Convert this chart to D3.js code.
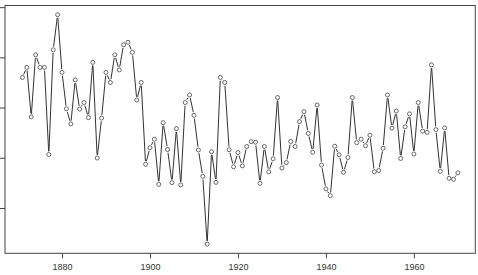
<!DOCTYPE html>
<html><head><meta charset="utf-8">
<script src="https://cdn.jsdelivr.net/npm/d3@7/dist/d3.min.js"></script>
<style>body{margin:0;background:#fff}svg{display:block}</style>
</head><body><svg id="c" width="478" height="275"></svg>
<script>
const startYear = 1871;
const flow = [1120,1160,963,1210,1160,1160,813,1230,1370,1140,995,935,1110,994,1020,960,1180,799,958,1140,1100,1210,1150,1250,1260,1220,1030,1100,774,840,874,694,940,833,701,916,692,1020,1050,969,831,726,456,824,702,1120,1100,832,764,821,768,845,864,862,698,845,744,796,1040,759,781,865,845,944,984,897,822,1010,771,676,649,846,812,742,801,1040,860,874,848,890,744,749,838,1050,918,986,797,923,975,815,1020,906,901,1170,912,746,919,718,714,740];
const years = flow.map((_, i) => startYear + i);
const xTicks = [1880, 1900, 1920, 1940, 1960];
const yTicks = [600, 800, 1000, 1200, 1400];

const svg = d3.select("#c");
const L = 5, R = 475.3, T = 5.5, B = 253.3;
const xr = d3.extent(years), yr = d3.extent(flow);
const xp = (xr[1]-xr[0])*0.04, yp = (yr[1]-yr[0])*0.04;
const x = d3.scaleLinear().domain([xr[0]-xp, xr[1]+xp]).range([L, R]);
const y = d3.scaleLinear().domain([yr[0]-yp, yr[1]+yp]).range([B, T]);

// line segments with gaps (type "b")
const gap = 3.2;
const segs = [];
for (let i = 0; i < flow.length-1; i++) {
  const x1 = x(years[i]), y1 = y(flow[i]), x2 = x(years[i+1]), y2 = y(flow[i+1]);
  const dx = x2-x1, dy = y2-y1, len = Math.hypot(dx, dy);
  if (len > 2*gap) {
    const ux = dx/len, uy = dy/len;
    segs.push([x1+ux*gap, y1+uy*gap, x2-ux*gap, y2-uy*gap]);
  }
}
svg.append("g").selectAll("line").data(segs).join("line")
  .attr("x1", d=>d[0]).attr("y1", d=>d[1]).attr("x2", d=>d[2]).attr("y2", d=>d[3])
  .attr("stroke", "#333").attr("stroke-width", 1);

svg.append("g").selectAll("circle").data(flow).join("circle")
  .attr("cx", (d,i)=>x(years[i])).attr("cy", d=>y(d)).attr("r", 2)
  .attr("fill", "none").attr("stroke", "#444").attr("stroke-width", 0.8);

// box
svg.append("rect").attr("x", L).attr("y", T).attr("width", R-L).attr("height", B-T)
  .attr("fill", "none").attr("stroke", "#444").attr("stroke-width", 1);

// x axis
const xa = svg.append("g").attr("transform", `translate(0,${B})`)
  .call(d3.axisBottom(x).tickValues(xTicks).tickFormat(d3.format("d")).tickSize(5).tickPadding(5));
xa.select(".domain").remove();
xa.selectAll("line").attr("stroke", "#444");
xa.selectAll("text").attr("font-family", "Liberation Sans, Arial, sans-serif").attr("font-size", 9).attr("fill", "#333");

// y axis (labels fall outside the view)
const ya = svg.append("g").attr("transform", `translate(${L},0)`)
  .call(d3.axisLeft(y).tickValues(yTicks.filter(v => v >= y.domain()[0] && v <= y.domain()[1])).tickFormat("").tickSize(5));
ya.select(".domain").remove();
ya.selectAll("line").attr("stroke", "#444");
</script></body></html>
